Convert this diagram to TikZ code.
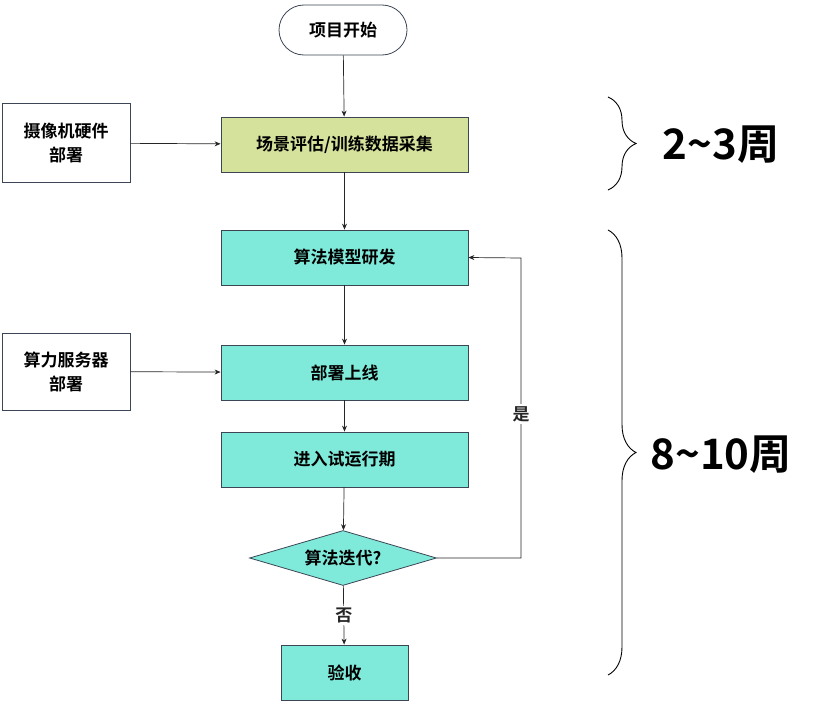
\documentclass[tikz,border=0pt]{standalone}
\usepackage{fontspec}
\setmainfont{Noto Sans CJK SC}[BoldFont={* Bold}]
\usetikzlibrary{shapes.geometric,decorations.pathreplacing,arrows.meta}
\definecolor{stepteal}{HTML}{7FEADA}
\definecolor{stepgreen}{HTML}{D5E29C}
\definecolor{edgegray}{HTML}{3C4655}
\tikzset{
  stage/.style={draw=edgegray, line width=0.8pt, minimum width=247pt, minimum height=55pt, font=\bfseries\fontsize{17}{20}\selectfont},
  side/.style={draw=edgegray, line width=0.8pt, fill=white, minimum width=128pt, minimum height=79pt, align=center, font=\bfseries\fontsize{17}{24}\selectfont},
  flow/.style={-{Stealth[length=6pt,width=5pt]}, line width=0.7pt, black!85},
  span/.style={decorate, decoration={brace, amplitude=28pt}, line width=0.9pt},
  weeks/.style={font=\bfseries\fontsize{42}{46}\selectfont}
}
\begin{document}
\begin{tikzpicture}[x=1pt,y=-1pt]
  \useasboundingbox (0,0) rectangle (831,704);
  % main column
  \node[draw=edgegray, line width=0.8pt, rounded corners=25pt, minimum width=128pt, minimum height=50pt, font=\bfseries\fontsize{17}{20}\selectfont] (start) at (343,30) {项目开始};
  \node[stage, fill=stepgreen] (survey) at (344.5,144.5) {场景评估/训练数据采集};
  \node[stage, fill=stepteal] (model) at (344.5,257.5) {算法模型研发};
  \node[stage, fill=stepteal] (deploy) at (344.5,372.5) {部署上线};
  \node[stage, fill=stepteal] (trial) at (344.5,459.5) {进入试运行期};
  \node[diamond, aspect=3.4, draw=edgegray, line width=0.8pt, fill=stepteal, minimum width=187pt, minimum height=55pt, inner sep=0pt, font=\bfseries\fontsize{17}{20}\selectfont] (iterate) at (343,558) {算法迭代?};
  \node[stage, fill=stepteal, minimum width=127pt] (accept) at (344.5,672.5) {验收};
  % side inputs
  \node[side] (camera) at (66,143) {摄像机硬件\\部署};
  \node[side, minimum height=77pt] (server) at (66,371.5) {算力服务器\\部署};
  % connectors
  \draw[flow] (start) -- (survey);
  \draw[flow] (survey) -- (model);
  \draw[flow] (model) -- (deploy);
  \draw[flow] (deploy) -- (trial);
  \draw[flow] (trial) -- (iterate);
  \draw[flow] (iterate) -- node[fill=white, font=\bfseries\fontsize{17}{20}\selectfont, inner sep=2pt] (no) {否} (accept);
  \draw[flow] (iterate.east) -- (521,558) -- node[pos=0.48, fill=white, font=\bfseries\fontsize{17}{20}\selectfont, inner sep=2pt] (yes) {是} (521,258) -- (model.east);
  \draw[flow] (camera) -- (survey);
  \draw[flow] (server) -- (deploy);
  % durations
  \draw[span] (608,97) -- (608,190);
  \node[weeks] (phase1) at (721,145) {2\textasciitilde3周};
  \draw[span] (608,230) -- (608,675);
  \node[weeks] (phase2) at (721,455) {8\textasciitilde10周};
\end{tikzpicture}
\end{document}
